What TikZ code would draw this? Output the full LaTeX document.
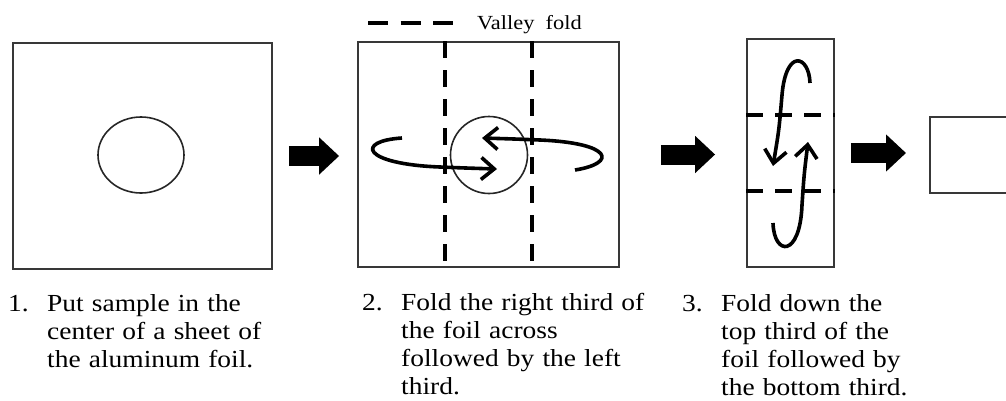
\documentclass[tikz,border=0pt]{standalone}
\usepackage{fontspec}
\setmainfont[FakeStretch=1.12]{Liberation Serif}
\usetikzlibrary{positioning,arrows.meta,calc,shapes.geometric}
\newcommand{\stepno}[1]{\makebox[39pt][l]{#1}}
\newcommand{\stepin}{\hspace*{39pt}}

\begin{document}
\begin{tikzpicture}[
  x=1pt, y=-1pt,
  sheet/.style={rectangle, draw=black!78, line width=1.8pt, inner sep=0pt},
  sample/.style={ellipse, draw=black!85, line width=1.6pt, inner sep=0pt},
  fold/.style={line width=4pt, dash pattern=on 17pt off 12pt},
  turn/.style={line width=3.6pt, -{Straight Barb[length=13pt,width=22pt]}},
  push/.style={line width=20pt, -{Triangle[length=20pt,width=36pt]}},
  steptext/.style={anchor=base west, inner sep=0pt, text width=300pt, align=left,
                   font=\fontsize{24.5}{28}\selectfont}
]
\useasboundingbox (0,0) rectangle (1006,400);
\clip (0,0) rectangle (1006,400);

% legend
\coordinate (keyA) at (368,23);
\coordinate (keyB) at (453,23);
\draw[fold, dash pattern=on 20pt off 12.5pt] (keyA) -- (keyB);
\node[anchor=base west, inner sep=0pt, font=\fontsize{20}{24}\selectfont] (keytext) at (477,29) {Valley\ \ fold};

% sheets
\node[sheet, minimum width=259pt, minimum height=226pt] (sheet1) at (142.5,156) {};
\node[sheet, minimum width=261pt, minimum height=225pt] (sheet2) at (488.5,154.5) {};
\node[sheet, minimum width=87pt, minimum height=228pt] (sheet3) at (790.5,153) {};
\node[sheet, minimum width=160pt, minimum height=76pt, anchor=west] (packet) at (929,155) {};

\node[sample, minimum width=86pt, minimum height=76pt] (sample1) at (141,155) {};
\node[sample, minimum width=77pt, minimum height=77pt] (sample2) at (489,155) {};

% valley folds
\draw[fold] ($(sheet2.north west)!1/3!(sheet2.north east)$) -- ($(sheet2.south west)!1/3!(sheet2.south east)$);
\draw[fold] ($(sheet2.north west)!2/3!(sheet2.north east)$) -- ($(sheet2.south west)!2/3!(sheet2.south east)$);
\draw[fold] ($(sheet3.north west)!1/3!(sheet3.south west)$) -- ($(sheet3.north east)!1/3!(sheet3.south east)$);
\draw[fold] ($(sheet3.north west)!2/3!(sheet3.south west)$) -- ($(sheet3.north east)!2/3!(sheet3.south east)$);

% fold directions
\draw[turn] (402,138) .. controls (355,141) and (362,164) .. (440,167) .. controls (465,168) .. (497,169);
\draw[turn] (575,170) .. controls (618,163) and (612,143) .. (540,140) .. controls (515,139) .. (482,138);
\draw[turn] (810,83) .. controls (809,55) and (786,48) .. (782,95) .. controls (779,130) .. (773,166);
\draw[turn] (773,223) .. controls (774,256) and (800,258) .. (802,205) .. controls (804,175) .. (808,142);

% steps
\draw[push] ([xshift=16pt]sheet1.east) -- ([xshift=-18pt]sheet1.east -| sheet2.west);
\draw[push] ([xshift=41pt]sheet2.east) -- ([xshift=-31pt]sheet2.east -| sheet3.west);
\draw[push] ([xshift=16pt]sheet3.east) -- ([xshift=-23pt]sheet3.east -| packet.west);

\node[steptext] (step1) at (8,311) {\stepno{1.}Put sample in the\\\stepin center of a sheet of\\\stepin the aluminum foil.};
\node[steptext] (step2) at (362,310) {\stepno{2.}Fold the right third of\\\stepin the foil across\\\stepin followed by the left\\\stepin third.};
\node[steptext] (step3) at (682,311) {\stepno{3.}Fold down the\\\stepin top third of the\\\stepin foil followed by\\\stepin the bottom third.};
\end{tikzpicture}
\end{document}
